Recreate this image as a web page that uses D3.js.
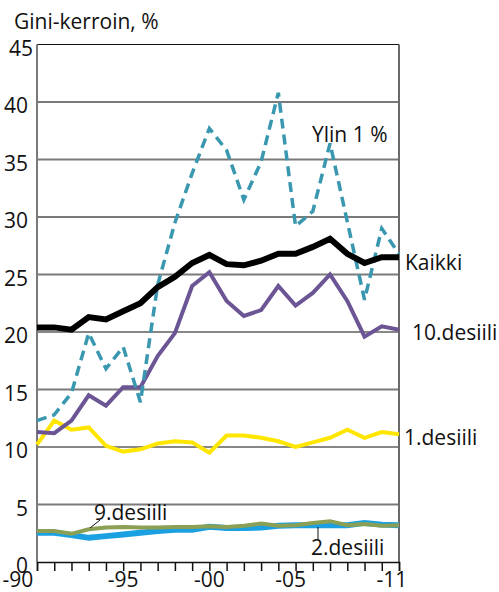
<!DOCTYPE html>
<html><head><meta charset="utf-8">
<script src="https://cdn.jsdelivr.net/npm/d3@7"></script>
<style>body{margin:0;background:#fff}svg{display:block}text{font-family:"Open Sans",sans-serif;fill:#111}</style>
</head><body>
<svg id="c" width="499" height="592"></svg>
<script>
const years = d3.range(1990, 2012);
const yTicks = [0,5,10,15,20,25,30,35,40,45];
const xTickYears = [1990,1995,2000,2005,2011];
const xTickLabels = ["-90","-95","-00","-05","-11"];
const title = "Gini-kerroin, %";

const top1   = [12.3,12.8,14.7,19.9,16.8,18.7,13.9,24.1,29.5,33.8,37.7,35.8,31.5,34.8,40.8,29.2,30.5,36.4,29.6,22.8,29.0,26.8];
const kaikki = [20.4,20.4,20.2,21.3,21.1,21.8,22.5,23.9,24.8,26.0,26.7,25.9,25.8,26.2,26.8,26.8,27.4,28.1,26.8,26.0,26.5,26.5];
const des10  = [11.3,11.2,12.3,14.5,13.6,15.2,15.2,17.9,19.9,24.0,25.2,22.7,21.4,21.9,24.0,22.3,23.4,25.0,22.7,19.6,20.5,20.2];
const des1   = [10.2,12.3,11.5,11.7,10.1,9.6,9.8,10.3,10.5,10.4,9.5,11.0,11.0,10.8,10.5,10.0,10.4,10.8,11.5,10.8,11.3,11.1];
const des2   = [2.55,2.55,2.35,2.1,2.25,2.4,2.55,2.7,2.8,2.8,3.07,2.95,2.95,3.0,3.15,3.2,3.2,3.2,3.2,3.4,3.25,3.2];
const des9   = [2.7,2.7,2.45,2.85,3.0,3.05,3.0,3.0,3.05,3.05,3.1,3.05,3.15,3.35,3.15,3.2,3.4,3.55,3.2,3.3,3.15,3.2];

const svg = d3.select("#c");
const x = d3.scaleLinear().domain([1990,2011]).range([37,399]);
const y = d3.scaleLinear().domain([0,45]).range([562,44.5]);

// gridlines
const darkLines = [10,20,45];
svg.append("g").selectAll("line").data(yTicks.filter(v=>v>0)).join("line")
  .attr("x1",37).attr("x2",399).attr("y1",d=>y(d)).attr("y2",d=>y(d))
  .attr("stroke",d=>darkLines.includes(d)?"#111":"#7a7a7a")
  .attr("stroke-width",d=>darkLines.includes(d)?1.2:2);

// y axis line and right border
svg.append("line").attr("x1",37).attr("x2",37).attr("y1",y(45)).attr("y2",y(0)).attr("stroke","#7a7a7a").attr("stroke-width",2);
svg.append("line").attr("x1",399).attr("x2",399).attr("y1",y(45)).attr("y2",y(0)).attr("stroke","#6a6a6a").attr("stroke-width",2);

// y labels
svg.append("g").selectAll("text").data(yTicks).join("text")
  .attr("x",d=>d===45?33:28).attr("y",d=>y(d)+4).attr("dy","0.35em")
  .attr("text-anchor","end").attr("font-size",21).text(d=>d);

// x axis
const xAxis = d3.axisBottom(x).tickValues(years).tickSize(9).tickFormat("");
const gx = svg.append("g").attr("transform",`translate(0,${y(0)})`).call(xAxis);
gx.select(".domain").attr("stroke","#111").attr("stroke-width",1.5);
gx.selectAll(".tick line").attr("stroke","#111").attr("stroke-width",1.5);
svg.append("g").selectAll("text").data(xTickYears).join("text")
  .attr("x",(d,i)=>x(d)+(i===0?-19:(i===3?-5:(i===4?-7:0))))
  .attr("y",587).attr("text-anchor","middle").attr("font-size",21)
  .text((d,i)=>xTickLabels[i]);

// title
svg.append("text").attr("x",14).attr("y",29).attr("font-size",21).text(title);

const line = d3.line().x((d,i)=>x(years[i])).y(d=>y(d));
function draw(data,color,w,dash){
  const p = svg.append("path").datum(data).attr("d",line).attr("fill","none")
    .attr("stroke",color).attr("stroke-width",w).attr("stroke-linejoin","miter");
  if(dash) p.attr("stroke-dasharray",dash);
}
draw(des2,"#1ba1e2",6);
draw(des9,"#8ba055",4);
draw(des1,"#ffe600",4);
draw(des10,"#6b5594",4);
draw(top1,"#3a97b0",3.5,"10,6");
draw(kaikki,"#000",6);

// series labels
const lab = (t,xx,yy)=>svg.append("text").attr("x",xx).attr("y",yy).attr("font-size",21).text(t);
lab("Ylin 1 %",312,142);
lab("Kaikki",405,270);
lab("10.desiili",412,340);
lab("1.desiili",404,445);
lab("2.desiili",311,555);
lab("9.desiili",94,520);
svg.append("line").attr("x1",318).attr("x2",318).attr("y1",527).attr("y2",540).attr("stroke","#111").attr("stroke-width",1);
svg.append("line").attr("x1",100).attr("x2",90).attr("y1",520).attr("y2",528).attr("stroke","#111").attr("stroke-width",1);
</script>
</body></html>
